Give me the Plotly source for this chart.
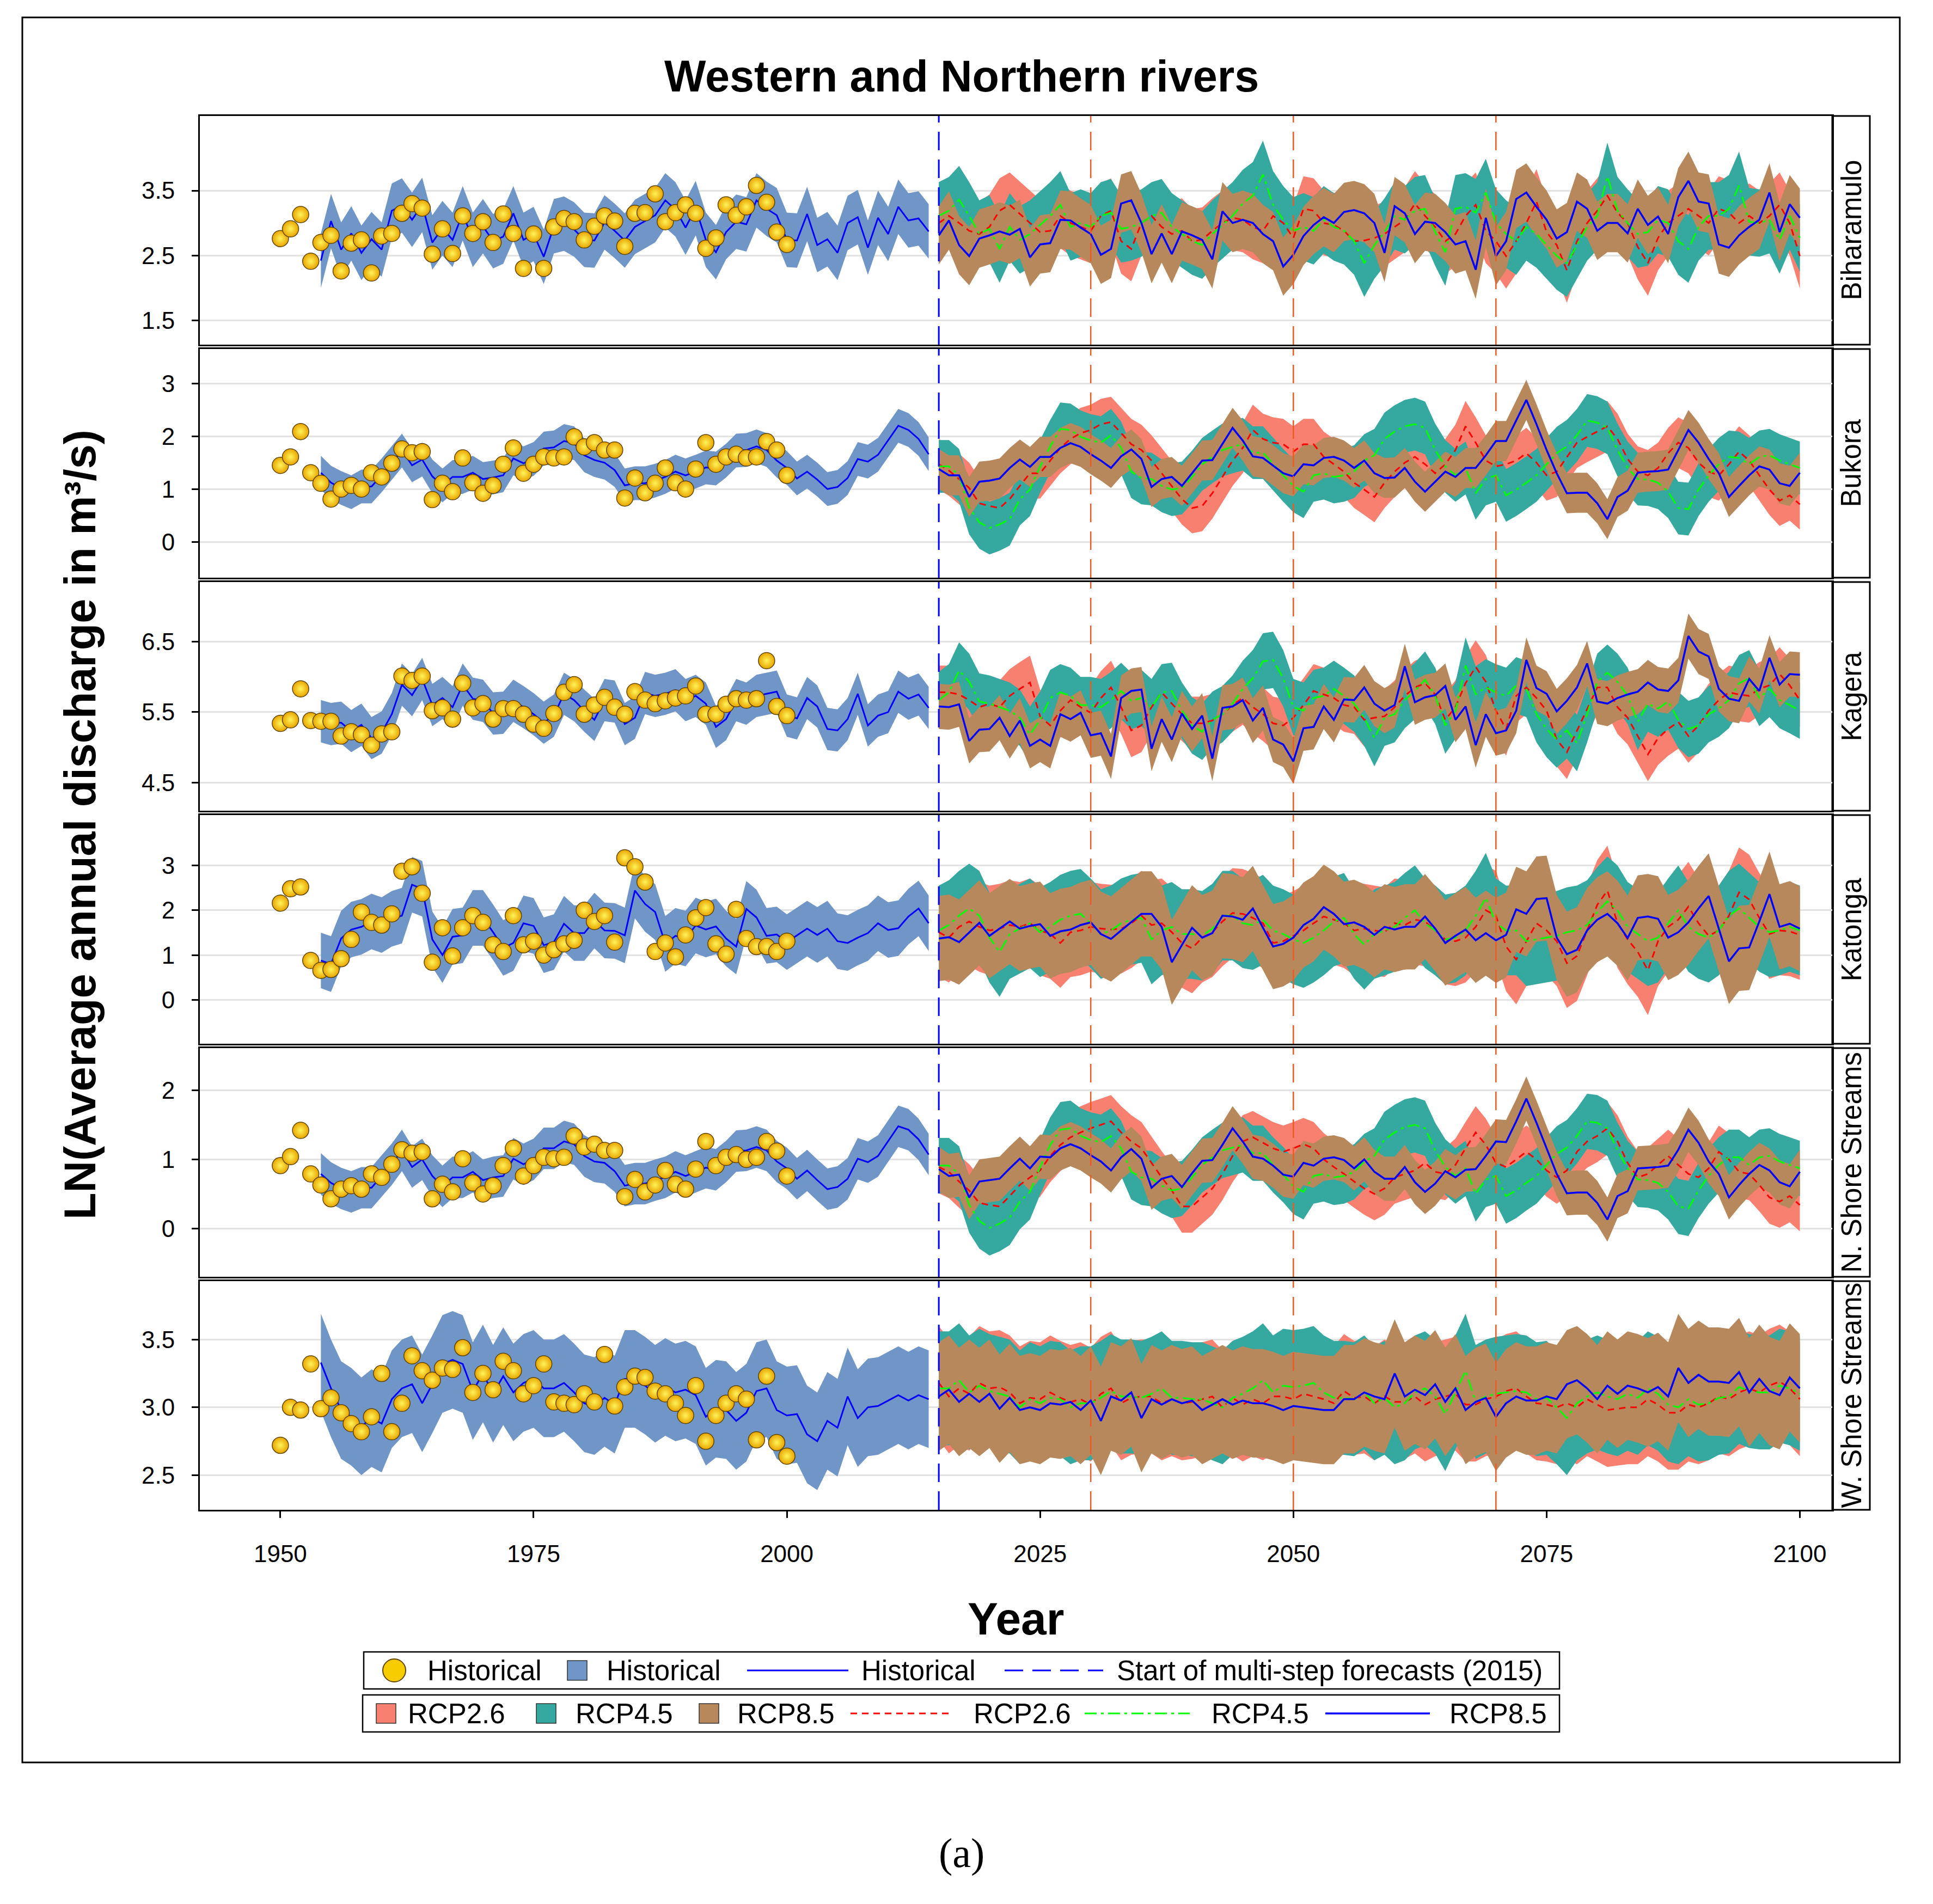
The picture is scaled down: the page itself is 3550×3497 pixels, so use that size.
import plotly.graph_objects as go

# ---------------- DATA ----------------
obs_years = list(range(1950, 2001))
fit_years = list(range(1954, 2015))
proj_years = list(range(2015, 2101))

rivers = ["Biharamulo", "Bukora", "Kagera", "Katonga", "N. Shore Streams", "W. Shore Streams"]

# observed (historical points)
obs_biharamulo = [2.76,2.91,3.13,2.41,2.70,2.81,2.26,2.69,2.74,2.23, 2.80,2.84,3.15,3.30,3.23,2.52,2.91,2.53,3.11,2.84,
                  3.02,2.70,3.14,2.84,2.30,2.83,2.30,2.94,3.07,3.02, 2.74,2.95,3.11,3.03,2.64,3.15,3.16,3.45,3.02,3.16,
                  3.28,3.15,2.61,2.77,3.28,3.12,3.25,3.58,3.32,2.86, 2.67]
obs_bukora = [1.45,1.61,2.09,1.31,1.11,0.81,1.00,1.07,1.00,1.31, 1.23,1.49,1.76,1.69,1.71,0.80,1.11,0.95,1.59,1.12,
              0.92,1.07,1.47,1.78,1.30,1.47,1.61,1.59,1.61,1.99, 1.80,1.88,1.74,1.74,0.83,1.21,0.93,1.11,1.40,1.12,
              1.00,1.38,1.88,1.47,1.61,1.66,1.59,1.61,1.90,1.74, 1.26]
obs_kagera = [5.34,5.39,5.83,5.38,5.37,5.37,5.16,5.22,5.18,5.03, 5.19,5.22,6.01,5.95,6.01,5.52,5.56,5.40,5.91,5.56,
              5.62,5.40,5.55,5.55,5.47,5.33,5.27,5.48,5.78,5.89, 5.47,5.60,5.71,5.57,5.47,5.79,5.67,5.62,5.66,5.70,
              5.73,5.87,5.47,5.47,5.61,5.69,5.67,5.69,6.23,5.58, 5.45]
obs_katonga = [2.16,2.48,2.52,0.88,0.66,0.68,0.92,1.35,1.96,1.73, 1.67,1.92,2.87,2.97,2.38,0.84,1.61,0.98,1.61,1.88,
               1.73,1.23,1.08,1.88,1.23,1.31,1.00,1.12,1.25,1.33, 2.00,1.75,1.88,1.29,3.17,2.97,2.63,1.08,1.27,0.96,
               1.45,1.83,2.06,1.25,1.02,2.02,1.37,1.19,1.19,1.08, 1.31]
obs_nshore = [0.91,1.04,1.42,0.79,0.63,0.43,0.57,0.62,0.57,0.79, 0.74,0.93,1.14,1.09,1.11,0.43,0.64,0.53,1.01,0.66,
              0.50,0.62,0.91,1.16,0.76,0.91,1.03,1.01,1.03,1.34, 1.18,1.22,1.13,1.13,0.46,0.71,0.53,0.63,0.84,0.64,
              0.57,0.86,1.26,0.91,1.03,1.07,1.00,1.03,1.26,1.12, 0.76]
obs_wshore = [2.72,3.00,2.98,3.32,2.99,3.07,2.96,2.88,2.82,2.93, 3.25,2.82,3.03,3.38,3.27,3.20,3.29,3.28,3.44,3.11,
              3.25,3.13,3.34,3.27,3.10,3.16,3.32,3.04,3.03,3.02, 3.10,3.04,3.39,3.01,3.15,3.23,3.22,3.12,3.10,3.03,
              2.94,3.16,2.75,2.94,3.03,3.10,3.06,2.76,3.23,2.74, 2.64]

# historical model fit (1954-2014)
fit_biharamulo = [2.42,3.03,2.59,2.84,2.54,2.75,2.59,3.19,3.27,3.05, 3.28,2.70,2.92,2.74,3.15,2.74,2.95,2.72,2.79,3.15,
                  2.74,2.83,2.48,2.95,2.99,2.90,2.74,2.73,3.01,2.88, 2.73,2.94,3.03,3.12,3.35,3.21,2.93,3.23,2.74,2.55,
                  2.86,3.02,2.98,3.35,3.22,3.12,2.74,2.73,3.14,2.66, 2.75,2.54,3.00,3.09,2.62,3.08,2.83,3.25,3.04,3.07,
                  2.87]
fit_bukora = [1.31,1.12,1.02,0.94,1.05,1.05,1.26,1.49,1.73,1.45, 1.56,1.24,1.07,1.23,1.23,1.31,1.19,1.22,1.26,1.58,
              1.49,1.57,1.77,1.79,1.91,1.87,1.64,1.55,1.50,1.36, 1.07,1.11,1.11,1.16,1.23,1.33,1.26,1.33,1.41,1.39,
              1.54,1.73,1.74,1.81,1.74,1.54,1.40,1.20,1.33,1.18, 1.00,1.04,1.21,1.57,1.52,1.65,1.93,2.20,2.12,1.95,
              1.66]
fit_kagera = [5.37,5.33,5.35,5.23,5.32,5.13,5.21,5.47,5.89,5.74, 5.97,5.60,5.70,5.57,5.89,5.69,5.66,5.48,5.49,5.66,
              5.57,5.47,5.35,5.45,5.76,5.67,5.52,5.39,5.67,5.65, 5.33,5.42,5.77,5.73,5.76,5.81,5.67,5.73,5.62,5.29,
              5.40,5.67,5.62,5.73,5.76,5.79,5.45,5.41,5.70,5.58, 5.26,5.24,5.40,5.76,5.31,5.45,5.50,5.79,5.69,5.75,
              5.56]
fit_katonga = [0.88,0.80,1.37,1.57,1.63,1.75,1.67,1.81,1.88,2.57, 2.48,1.35,1.00,1.41,1.44,1.83,1.83,1.51,1.16,1.27,
               1.71,1.65,1.22,1.29,1.70,1.49,1.49,1.77,1.55,1.54, 1.44,2.44,2.14,1.96,1.25,1.43,1.37,1.66,1.57,1.64,
               1.37,1.19,2.03,1.84,1.43,1.46,1.29,1.44,1.59,1.45, 1.59,1.31,1.27,1.39,1.49,1.71,1.56,1.60,1.86,2.04,
               1.71]
fit_nshore = [0.79,0.66,0.58,0.53,0.59,0.59,0.76,0.93,1.13,0.89, 1.00,0.76,0.61,0.74,0.74,0.82,0.70,0.74,0.76,1.01,
              0.93,1.00,1.16,1.16,1.26,1.22,1.05,0.97,0.95,0.83, 0.62,0.65,0.65,0.70,0.74,0.82,0.76,0.82,0.88,0.85,
              0.97,1.12,1.13,1.18,1.13,0.97,0.87,0.72,0.84,0.70, 0.57,0.60,0.72,1.01,0.96,1.05,1.27,1.48,1.43,1.29,
              1.07]
fit_wshore = [3.33,3.14,2.98,2.93,2.86,2.92,2.88,3.06,3.14,3.17, 3.03,3.17,3.32,3.35,3.32,3.12,3.25,3.10,3.23,3.11,
              3.18,3.21,3.14,3.14,3.18,3.11,3.03,3.01,3.07,3.02, 3.21,3.21,3.16,3.10,3.15,3.11,3.13,3.09,2.93,2.99,
              2.98,2.90,2.96,3.12,3.14,2.98,2.94,2.95,2.80,2.75, 2.90,2.85,3.08,2.92,3.00,3.01,3.05,3.09,3.05,3.09,
              3.06]

# RCP2.6 projections (2015-2100)
rcp26_biharamulo = [3.00,3.11,3.00,2.88,2.83,2.94,3.19,3.28,3.14,3.00, 2.86,2.88,3.11,3.00,2.94,2.88,3.11,3.19,2.72,2.60,
                    3.00,3.11,2.94,2.83,2.88,2.72,2.74,2.88,3.00,3.08, 3.05,2.94,2.88,3.11,3.00,2.77,3.22,3.19,3.00,2.97,
                    2.88,2.72,2.73,2.77,2.83,2.94,3.05,3.30,3.11,2.94, 2.72,2.83,3.11,3.28,2.88,2.72,2.49,2.72,3.00,3.33,
                    2.86,2.66,2.27,2.72,3.00,3.19,3.42,3.16,3.00,2.63, 2.38,2.77,3.00,3.11,3.22,3.11,3.00,3.22,3.16,3.00,
                    3.11,3.00,3.11,3.28,3.00,2.49]
rcp26_bukora = [1.47,1.35,1.19,1.02,0.73,0.68,0.64,0.81,1.06,1.30, 1.30,1.54,1.78,1.95,2.06,2.12,2.23,2.27,2.06,1.85,
                1.74,1.54,1.30,1.06,0.81,0.64,0.68,0.92,1.23,1.54, 1.78,2.12,1.95,1.88,1.85,1.71,1.85,1.85,1.61,1.47,
                1.33,1.12,0.99,0.85,1.12,1.33,1.50,1.61,1.47,1.30, 1.47,1.74,2.19,1.88,1.54,1.43,1.47,1.54,1.68,1.50,
                1.26,1.33,1.61,1.88,1.99,2.09,2.19,1.95,1.57,1.33, 1.26,1.40,1.68,1.88,1.78,1.50,1.33,1.26,1.47,1.71,
                1.54,1.26,0.99,0.78,0.88,0.71]
rcp26_kagera = [5.78,5.78,5.75,5.67,5.57,5.62,5.57,5.73,5.83,5.92, 5.44,5.31,5.52,5.67,5.57,5.49,5.70,5.85,5.57,5.24,
                5.31,5.57,5.78,5.62,5.47,5.34,5.34,5.38,5.47,5.60, 5.70,5.57,5.47,5.34,5.31,5.42,5.60,5.80,5.75,5.70,
                5.60,5.57,5.39,5.42,5.44,5.57,5.73,5.85,5.91,5.75, 5.39,5.57,5.91,6.14,5.93,5.52,5.26,5.73,5.85,5.70,
                5.52,5.11,4.93,5.24,5.55,5.85,5.85,5.57,5.42,5.16, 4.90,5.13,5.26,5.36,5.16,5.31,5.52,5.67,5.78,5.75,
                5.73,5.83,5.88,6.04,5.88,5.67]
rcp26_katonga = [1.51,1.39,1.63,1.75,1.63,1.55,1.59,1.67,1.63,1.71, 1.55,1.47,1.27,1.51,1.55,1.63,1.59,1.57,1.59,1.71,
                 1.88,1.67,1.71,1.51,1.27,1.15,1.39,1.51,1.75,1.94, 1.92,1.83,1.71,1.27,1.31,1.43,1.55,1.71,1.86,1.79,
                 1.71,1.55,1.59,1.55,1.51,1.71,1.67,1.79,1.75,1.55, 1.35,1.31,1.39,1.63,2.00,1.88,1.19,0.90,1.31,1.71,
                 1.55,1.31,0.82,0.98,1.55,2.12,2.44,1.71,1.35,1.07, 0.66,1.31,1.63,1.79,2.08,1.71,1.43,1.55,1.88,2.40,
                 2.24,1.83,1.47,1.55,1.53,1.45]
rcp26_nshore = [0.89,0.82,0.68,0.55,0.37,0.34,0.32,0.47,0.63,0.74, 0.84,1.05,1.21,1.32,1.39,1.45,1.50,1.55,1.39,1.26,
                1.16,0.95,0.74,0.55,0.32,0.32,0.45,0.58,0.79,1.05, 1.26,1.32,1.24,1.16,1.11,1.16,1.22,1.16,1.00,0.89,
                0.79,0.68,0.58,0.50,0.58,0.74,0.79,0.84,0.95,0.82, 0.79,0.92,1.16,1.39,1.21,0.95,0.89,1.00,1.11,1.00,
                0.84,0.74,0.84,1.11,1.26,1.34,1.45,1.26,0.95,0.74, 0.79,0.92,1.05,0.92,0.79,0.74,0.87,1.11,1.00,0.82,
                0.79,0.63,0.45,0.39,0.47,0.34]
rcp26_wshore = [3.18,3.08,3.14,3.10,3.18,3.14,3.15,3.11,3.03,3.07, 3.06,3.11,3.07,3.04,3.06,3.02,3.10,3.14,3.03,3.07,
                3.08,3.08,3.03,3.06,3.03,3.04,3.06,3.08,3.00,3.07, 3.02,3.06,3.03,3.08,3.08,3.06,3.10,3.08,3.06,3.03,
                3.12,3.07,3.08,3.03,3.08,3.04,3.04,3.08,3.02,3.06, 3.08,3.10,3.02,3.02,3.06,3.08,3.12,3.14,3.08,3.03,
                3.02,3.00,3.03,3.00,3.06,3.02,2.98,2.99,3.00,3.00, 3.06,3.02,2.96,2.96,3.02,3.00,3.03,3.08,3.06,3.11,
                3.14,3.11,3.16,3.19,3.14,3.06]

# RCP4.5 projections
rcp45_biharamulo = [3.11,3.19,3.36,3.11,2.83,2.91,2.60,2.94,2.74,2.83, 2.97,3.11,3.28,2.94,3.00,2.94,3.11,3.16,2.91,2.94,
                    3.00,3.11,3.16,2.94,2.83,2.72,2.66,2.83,2.97,3.11, 3.30,3.42,3.75,3.28,3.05,2.88,2.94,2.88,3.05,2.94,
                    2.88,2.72,2.38,2.66,2.86,3.11,3.05,3.19,3.22,2.86, 2.55,3.22,3.25,3.16,3.47,3.00,2.83,2.72,2.94,2.83,
                    2.66,2.49,2.38,2.66,2.94,3.11,3.72,3.19,3.00,2.83, 2.86,3.05,3.00,2.72,2.60,2.94,3.11,3.11,3.22,3.58,
                    3.02,3.00,3.05,2.74,3.11,2.77]
rcp45_bukora = [1.43,1.43,1.26,0.64,0.37,0.26,0.33,0.43,0.81,0.99, 1.43,1.81,2.14,2.12,1.99,1.92,1.88,2.02,1.78,1.33,
                1.21,1.19,1.06,0.99,1.02,1.23,1.47,1.61,1.74,1.80, 1.85,1.69,1.69,1.47,1.26,1.06,0.95,1.26,1.30,1.23,
                1.26,1.33,1.54,1.64,1.95,2.09,2.19,2.23,2.16,1.74, 1.43,1.26,1.40,0.92,1.19,1.26,0.88,0.99,1.12,1.26,
                1.47,1.68,1.81,2.02,2.30,2.26,2.16,1.74,1.40,1.19, 1.18,1.12,0.95,0.64,0.62,0.99,1.26,1.47,1.61,1.59,
                1.47,1.61,1.64,1.54,1.47,1.40]
rcp45_kagera = [5.67,5.78,6.09,5.93,5.65,5.62,5.57,5.52,5.42,5.18, 5.39,5.70,5.78,5.73,5.60,5.60,5.57,5.67,5.80,5.66,
                5.70,5.57,5.78,5.80,5.52,5.31,5.22,5.39,5.47,5.62, 5.83,5.98,6.22,6.24,5.98,5.57,5.52,5.70,5.73,5.83,
                5.73,5.62,5.42,5.13,5.42,5.47,5.67,5.80,5.96,5.73, 5.31,5.52,6.16,5.75,5.85,5.78,5.73,5.88,5.83,5.47,
                5.26,5.11,5.24,5.06,5.47,5.93,6.06,5.93,5.73,5.36, 5.62,5.55,5.65,5.39,5.26,5.31,5.47,5.55,5.67,5.91,
                5.98,5.70,5.83,5.67,5.60,5.52]
rcp45_katonga = [1.55,1.67,1.88,2.04,1.88,1.39,1.07,1.47,1.59,1.71, 1.51,1.63,1.79,1.88,1.92,1.71,1.47,1.55,1.71,1.79,
                 1.83,1.35,1.55,1.63,1.47,1.47,1.43,1.59,1.88,1.88, 1.71,1.67,1.79,1.55,1.47,1.35,1.27,1.39,1.55,1.75,
                 1.83,1.47,1.23,1.47,1.55,1.63,1.83,2.00,1.71,1.55, 1.35,1.39,1.55,1.88,2.28,1.71,1.55,1.55,1.31,1.35,
                 1.39,1.43,1.51,1.55,1.67,1.96,2.20,2.00,1.63,1.47, 1.31,1.39,1.71,2.00,1.63,1.47,1.39,1.55,1.88,2.04,
                 1.83,1.63,1.51,1.55,1.63,1.55]
rcp45_nshore = [0.91,0.91,0.79,0.34,0.11,0.01,0.07,0.16,0.39,0.53, 0.89,1.21,1.43,1.45,1.34,1.28,1.25,1.34,1.16,0.82,
                0.74,0.72,0.62,0.55,0.58,0.74,0.92,1.03,1.13,1.17, 1.21,1.09,1.09,0.92,0.78,0.61,0.53,0.76,0.79,0.74,
                0.76,0.82,0.97,1.05,1.29,1.39,1.47,1.50,1.45,1.13, 0.89,0.76,0.87,0.50,0.71,0.76,0.47,0.55,0.66,0.76,
                0.92,1.08,1.17,1.34,1.55,1.53,1.45,1.13,0.87,0.71, 0.70,0.66,0.53,0.32,0.29,0.55,0.76,0.92,1.03,1.03,
                0.92,1.03,1.05,0.97,0.92,0.87]
rcp45_wshore = [3.14,3.14,3.20,3.11,3.16,3.12,3.10,3.08,3.00,3.06, 3.03,3.07,3.06,3.00,3.03,3.03,3.07,3.12,3.08,3.08,
                3.07,3.10,3.14,3.07,3.07,3.06,3.06,3.03,3.00,3.07, 3.10,3.14,3.20,3.11,3.16,3.15,3.16,3.18,3.11,3.07,
                3.07,3.06,3.11,3.03,3.07,3.00,3.03,3.11,3.14,3.08, 2.95,3.11,3.27,3.04,3.08,3.10,3.11,3.12,3.11,3.06,
                3.07,3.00,2.92,3.03,3.08,3.11,3.08,3.06,3.10,3.07, 3.14,3.10,3.02,3.00,3.06,3.02,3.03,3.07,3.08,3.15,
                3.12,3.11,3.11,3.16,3.14,3.10]

# RCP8.5 projections
rcp85_biharamulo = [2.81,3.04,2.66,2.49,2.76,2.81,2.87,2.82,2.91,2.47, 2.67,2.69,3.05,3.04,2.93,2.83,2.51,2.60,3.30,3.35,
                    3.00,2.52,2.84,2.52,2.87,2.81,2.74,2.44,3.18,3.00, 3.05,3.00,2.83,2.72,2.33,2.51,2.80,2.97,3.09,3.00,
                    3.17,3.20,3.15,3.00,2.54,3.26,3.15,2.83,3.02,3.00, 2.86,2.67,2.72,2.28,3.08,2.49,2.72,3.37,3.47,3.25,
                    3.05,2.76,2.86,3.33,3.22,2.88,3.00,3.00,2.84,3.22, 2.97,3.10,2.83,3.40,3.65,3.33,3.30,2.67,2.62,2.81,
                    2.94,3.05,3.47,2.86,3.29,3.08]
rcp85_bukora = [1.38,1.26,1.26,0.85,1.14,1.16,1.20,1.40,1.56,1.42, 1.61,1.61,1.78,1.87,1.80,1.66,1.54,1.40,1.62,1.75,
                1.57,1.04,1.19,1.23,1.06,1.30,1.54,1.55,1.85,2.16, 1.92,1.62,1.59,1.45,1.30,1.24,1.47,1.45,1.59,1.61,
                1.54,1.40,1.54,1.30,1.21,1.22,1.40,1.14,0.95,1.14, 1.33,1.23,1.40,1.40,1.64,1.91,1.91,2.30,2.69,2.23,
                1.74,1.30,0.92,0.93,0.93,0.73,0.43,0.85,0.97,1.31, 1.33,1.34,1.37,1.74,2.12,1.88,1.57,1.30,0.85,1.06,
                1.26,1.43,1.37,1.11,1.06,1.31]
rcp85_kagera = [5.58,5.57,5.61,5.09,5.25,5.26,5.42,5.16,5.38,5.02, 5.11,5.02,5.47,5.40,5.49,5.17,5.20,4.87,5.70,5.80,
                5.82,4.98,5.40,5.11,5.48,5.26,5.45,4.84,5.56,5.58, 5.67,5.38,5.56,5.11,5.04,4.80,5.27,5.29,5.58,5.39,
                5.68,5.67,5.85,5.62,5.52,5.60,6.15,5.64,5.71,5.74, 5.87,5.39,5.58,5.03,5.47,5.20,5.24,5.52,6.24,5.84,
                5.76,5.51,5.66,5.85,6.19,5.65,5.62,5.70,5.75,5.79, 5.92,5.82,5.80,5.95,6.58,6.36,6.29,5.83,5.69,5.66,
                5.97,5.80,6.27,5.89,6.04,6.03]
rcp85_katonga = [1.37,1.40,1.29,1.51,1.72,1.43,1.59,1.75,1.59,1.65, 1.69,1.43,1.53,1.57,1.67,1.73,1.47,1.36,1.55,1.73,
                 1.92,1.92,1.63,0.84,1.23,1.61,1.39,1.49,1.88,1.86, 1.79,2.04,1.61,1.19,1.25,1.39,1.67,1.81,2.07,1.92,
                 1.69,1.73,1.63,1.45,1.63,1.57,1.63,1.63,1.86,1.59, 1.27,1.43,1.57,1.33,1.49,1.33,1.45,2.02,1.92,2.25,
                 2.27,1.39,1.02,1.12,1.55,1.79,1.92,1.71,1.38,1.83, 1.86,1.81,1.39,1.51,1.73,2.04,2.32,1.59,0.86,1.15,
                 1.17,1.75,2.36,1.63,1.70,1.59]
rcp85_nshore = [0.86,0.76,0.78,0.45,0.68,0.70,0.72,0.87,1.01,0.87, 1.04,1.03,1.16,1.22,1.16,1.06,0.97,0.84,1.03,1.15,
                1.01,0.59,0.72,0.76,0.60,0.80,0.98,0.99,1.21,1.45, 1.26,1.04,1.01,0.91,0.78,0.75,0.95,0.91,1.01,1.03,
                0.99,0.87,1.00,0.82,0.72,0.72,0.89,0.67,0.53,0.65, 0.83,0.74,0.85,0.86,1.05,1.26,1.25,1.55,1.88,1.53,
                1.16,0.79,0.51,0.52,0.52,0.37,0.13,0.47,0.54,0.87, 0.88,0.89,0.91,1.14,1.43,1.24,0.97,0.79,0.45,0.63,
                0.79,0.92,0.84,0.67,0.61,0.82]
rcp85_wshore = [3.08,3.13,3.04,3.10,3.04,3.10,2.99,3.07,2.98,3.00, 2.98,3.03,3.02,3.04,2.98,3.05,2.90,3.08,3.05,3.11,
                2.92,3.06,3.02,3.06,3.03,3.05,2.98,3.02,3.06,3.02, 3.05,3.03,3.03,3.01,2.98,3.01,3.00,2.99,2.98,2.98,
                3.06,3.06,3.11,3.08,3.06,3.25,3.08,3.13,3.09,3.17, 3.04,3.14,2.98,3.04,3.07,2.93,3.03,3.08,3.05,3.05,
                3.08,3.06,3.17,3.20,3.14,3.06,3.16,3.10,3.16,3.14, 3.11,3.15,3.08,3.29,3.18,3.24,3.19,3.19,3.18,3.26,
                3.11,3.21,3.12,3.09,3.22,3.14]

# half-widths of the uncertainty bands (per river)
fit_halfwidth = [0.42, 0.32, 0.30, 0.62, 0.30, 0.36]
rcp26_halfwidth = [0.50, 0.48, 0.38, 1.00, 0.38, 0.42]
rcp45_halfwidth = [0.52, 0.50, 0.40, 1.00, 0.40, 0.42]
rcp85_halfwidth = [0.45, 0.38, 0.32, 0.95, 0.32, 0.40]

forecast_start = 2015
milestones = [2030, 2050, 2070]

# y axes
y_ranges = [[1.124, 4.651], [-0.68, 3.655], [4.10, 7.346], [-0.978, 4.124], [-0.698, 2.61], [2.244, 3.931]]
y_tickvals = [[1.5, 2.5, 3.5], [0, 1, 2, 3], [4.5, 5.5, 6.5], [0, 1, 2, 3], [0, 1, 2], [2.5, 3.0, 3.5]]
y_ticktext = [["1.5", "2.5", "3.5"], ["0", "1", "2", "3"], ["4.5", "5.5", "6.5"], ["0", "1", "2", "3"],
              ["0", "1", "2"], ["2.5", "3.0", "3.5"]]
x_tickvals = [1950, 1975, 2000, 2025, 2050, 2075, 2100]
x_range = [1942.05, 2103.2]

# table built from the arrays above
panels = [
    (obs_biharamulo, fit_biharamulo, rcp26_biharamulo, rcp45_biharamulo, rcp85_biharamulo),
    (obs_bukora, fit_bukora, rcp26_bukora, rcp45_bukora, rcp85_bukora),
    (obs_kagera, fit_kagera, rcp26_kagera, rcp45_kagera, rcp85_kagera),
    (obs_katonga, fit_katonga, rcp26_katonga, rcp45_katonga, rcp85_katonga),
    (obs_nshore, fit_nshore, rcp26_nshore, rcp45_nshore, rcp85_nshore),
    (obs_wshore, fit_wshore, rcp26_wshore, rcp45_wshore, rcp85_wshore),
]

# ---------------- STYLE ----------------
W, H = 3550, 3497
FONT = "Liberation Sans, Arial, sans-serif"
C_FITBAND = "#7096C8"
C_26 = "#F88070"
C_45 = "#35A8A0"
C_85 = "#B6885C"
C_BLUE = "#0000FF"
C_RED = "#FF0000"
C_GREEN = "#00FF00"
C_MILE = "#EE5A24"
C_GRID = "#E3E3E3"

PX_L, PX_R, STRIP_R = 367, 3365, 3434
P_TOP, P_H, P_GAP = 213, 420, 8


def fx(px):
    return px / W


def fy(py):
    return 1 - py / H


def band(years, center, hw):
    up = [v + hw for v in center]
    lo = [v - hw for v in center]
    return years + years[::-1], up + lo[::-1]


fig = go.Figure()
layout = dict(
    width=W, height=H, autosize=False,
    margin=dict(l=0, r=0, t=0, b=0),
    paper_bgcolor="white", plot_bgcolor="white",
    showlegend=False,
    font=dict(family=FONT, color="black"),
)
shapes = []
annotations = []
TICKFONT = dict(size=44, family=FONT, color="black")

for i, name in enumerate(rivers):
    k = i + 1
    sfx = "" if k == 1 else str(k)
    xa, ya = "x" + sfx, "y" + sfx
    top = P_TOP + i * (P_H + P_GAP)
    bot = top + P_H
    is_bottom = (k == len(rivers))
    obs, fit, r26, r45, r85 = panels[i]

    layout["xaxis" + sfx] = dict(
        domain=[fx(PX_L), fx(PX_R)], range=x_range, anchor=ya,
        showline=True, mirror=True, linecolor="black", linewidth=3,
        showgrid=False, zeroline=False,
        tickvals=x_tickvals, showticklabels=is_bottom,
        ticks="outside" if is_bottom else "", ticklen=12, tickwidth=3, tickcolor="black",
        tickfont=TICKFONT, ticklabelstandoff=28,
        **({} if k == 1 else {"matches": "x"}),
    )
    layout["yaxis" + sfx] = dict(
        domain=[fy(bot), fy(top)], range=y_ranges[i], anchor=xa,
        showline=True, mirror=True, linecolor="black", linewidth=3,
        showgrid=True, gridcolor=C_GRID, gridwidth=3, zeroline=False,
        tickvals=y_tickvals[i], ticktext=y_ticktext[i],
        ticks="outside", ticklen=12, tickwidth=3, tickcolor="black",
        tickfont=TICKFONT, ticklabelstandoff=22,
    )

    # historical band
    bx, by = band(fit_years, fit, fit_halfwidth[i])
    fig.add_trace(go.Scatter(x=bx, y=by, fill="toself", fillcolor=C_FITBAND, mode="lines",
                             line=dict(width=0), hoverinfo="skip", xaxis=xa, yaxis=ya))
    # projection bands
    for series, hw, col in ((r26, rcp26_halfwidth[i], C_26), (r45, rcp45_halfwidth[i], C_45),
                            (r85, rcp85_halfwidth[i], C_85)):
        bx, by = band(proj_years, series, hw)
        fig.add_trace(go.Scatter(x=bx, y=by, fill="toself", fillcolor=col, mode="lines",
                                 line=dict(width=0), hoverinfo="skip", xaxis=xa, yaxis=ya))
    # lines
    fig.add_trace(go.Scatter(x=fit_years, y=fit, mode="lines", line=dict(color=C_BLUE, width=3),
                             xaxis=xa, yaxis=ya))
    fig.add_trace(go.Scatter(x=proj_years, y=r26, mode="lines",
                             line=dict(color=C_RED, width=3, dash="12px,9px"), xaxis=xa, yaxis=ya))
    fig.add_trace(go.Scatter(x=proj_years, y=r45, mode="lines",
                             line=dict(color=C_GREEN, width=3, dash="22px,8px,5px,8px"), xaxis=xa, yaxis=ya))
    fig.add_trace(go.Scatter(x=proj_years, y=r85, mode="lines", line=dict(color=C_BLUE, width=3.5),
                             xaxis=xa, yaxis=ya))
    # observed points
    fig.add_trace(go.Scatter(
        x=obs_years, y=obs, mode="markers", xaxis=xa, yaxis=ya,
        marker=dict(size=30, color="#E8A400", line=dict(color="#5E4500", width=1.5),
                    gradient=dict(type="radial", color="#FFF45A"))))

    # vertical reference lines
    shapes.append(dict(type="line", xref=xa, yref=ya + " domain", x0=forecast_start, x1=forecast_start,
                       y0=0, y1=1, line=dict(color=C_BLUE, width=3, dash="34px,17px"), layer="above"))
    for m in milestones:
        shapes.append(dict(type="line", xref=xa, yref=ya + " domain", x0=m, x1=m, y0=0, y1=1,
                           line=dict(color=C_MILE, width=2.5, dash="34px,17px"), layer="above"))
    # strip
    shapes.append(dict(type="rect", xref="paper", yref="paper", x0=fx(PX_R), x1=fx(STRIP_R),
                       y0=fy(bot), y1=fy(top), line=dict(color="black", width=3), fillcolor="white",
                       layer="below"))
    annotations.append(dict(text=name, xref="paper", yref="paper", x=fx((PX_R + STRIP_R) / 2),
                            y=fy((top + bot) / 2), textangle=-90, showarrow=False,
                            font=dict(size=51, family=FONT, color="black"),
                            xanchor="center", yanchor="middle"))

# outer frame
shapes.append(dict(type="rect", xref="paper", yref="paper", x0=fx(41), x1=fx(3489), y0=fy(3237), y1=fy(32),
                   line=dict(color="black", width=3), layer="below"))

# titles
annotations.append(dict(text="<b>Western and Northern rivers</b>", xref="paper", yref="paper",
                        x=fx(1766), y=fy(140), showarrow=False, font=dict(size=81, family=FONT),
                        xanchor="center", yanchor="middle"))
annotations.append(dict(text="<b>Year</b>", xref="paper", yref="paper", x=fx(1866), y=fy(2973),
                        showarrow=False, font=dict(size=84, family=FONT), xanchor="center", yanchor="middle"))
annotations.append(dict(text="<b>LN(Average annual discharge in m³/s)</b>", xref="paper", yref="paper",
                        x=fx(147), y=fy(1515), textangle=-90, showarrow=False,
                        font=dict(size=81, family=FONT), xanchor="center", yanchor="middle"))
annotations.append(dict(text="(a)", xref="paper", yref="paper", x=fx(1766), y=fy(3403), showarrow=False,
                        font=dict(size=76, family="Liberation Serif, serif"), xanchor="center",
                        yanchor="middle"))

# ---------------- LEGEND (drawn) ----------------
LEG_FONT = dict(size=51, family=FONT, color="black")
row1_y, row2_y = 3068, 3147
shapes.append(dict(type="rect", xref="paper", yref="paper", x0=fx(668), x1=fx(2864), y0=fy(3102), y1=fy(3034),
                   line=dict(color="black", width=2.5)))
shapes.append(dict(type="rect", xref="paper", yref="paper", x0=fx(666), x1=fx(2864), y0=fy(3181), y1=fy(3113),
                   line=dict(color="black", width=2.5)))


def leg_text(x, yc, txt):
    annotations.append(dict(text=txt, xref="paper", yref="paper", x=fx(x), y=fy(yc), showarrow=False,
                            font=LEG_FONT, xanchor="left", yanchor="middle"))


def leg_square(cx, yc, col):
    s = 18
    shapes.append(dict(type="rect", xref="paper", yref="paper", x0=fx(cx - s), x1=fx(cx + s),
                       y0=fy(yc + s), y1=fy(yc - s), fillcolor=col, line=dict(color="#333333", width=1.5)))


def leg_line(x0, x1, yc, col, dash, width=3):
    shapes.append(dict(type="line", xref="paper", yref="paper", x0=fx(x0), x1=fx(x1), y0=fy(yc), y1=fy(yc),
                       line=dict(color=col, width=width, dash=dash)))


shapes.append(dict(type="circle", xref="paper", yref="paper", x0=fx(703), x1=fx(745), y0=fy(3089), y1=fy(3047),
                   fillcolor="#F7CC00", line=dict(color="#5E4500", width=2)))
leg_text(783, row1_y, "Historical")
leg_square(1060, row1_y, C_FITBAND)
leg_text(1112, row1_y, "Historical")
leg_line(1372, 1558, row1_y, C_BLUE, "solid")
leg_text(1580, row1_y, "Historical")
leg_line(1845, 2026, row1_y, C_BLUE, "34px,17px")
leg_text(2049, row1_y, "Start of multi-step forecasts (2015)")

leg_square(709, row2_y, C_26)
leg_text(747, row2_y, "RCP2.6")
leg_square(1003, row2_y, C_45)
leg_text(1055, row2_y, "RCP4.5")
leg_square(1302, row2_y, C_85)
leg_text(1352, row2_y, "RCP8.5")
leg_line(1562, 1743, row2_y, C_RED, "12px,9px")
leg_text(1786, row2_y, "RCP2.6")
leg_line(1992, 2185, row2_y, C_GREEN, "22px,8px,5px,8px")
leg_text(2223, row2_y, "RCP4.5")
leg_line(2434, 2626, row2_y, C_BLUE, "solid", 3.5)
leg_text(2660, row2_y, "RCP8.5")

layout["shapes"] = shapes
layout["annotations"] = annotations
fig.update_layout(**layout)
fig.write_html("out.html", config={"displayModeBar": False},
               post_script="document.body.style.margin='0px';")
